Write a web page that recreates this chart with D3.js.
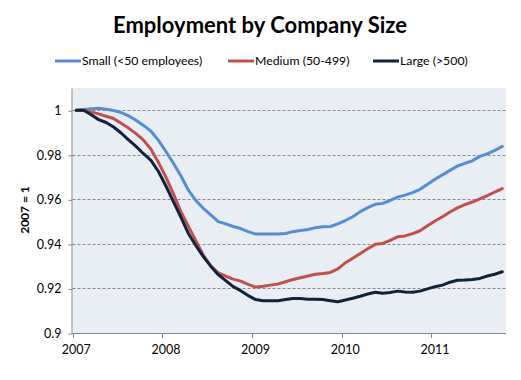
<!DOCTYPE html>
<html><head><meta charset="utf-8">
<script src="https://cdn.jsdelivr.net/npm/d3@7"></script>
<style>html,body{margin:0;padding:0;background:#fff;}svg{display:block;}</style>
</head><body>
<svg id="c" width="521" height="380"></svg>
<script>
const years = ["2007","2008","2009","2010","2011"];
const yTicks = [0.9, 0.92, 0.94, 0.96, 0.98, 1];
const seriesNames = ["Small (<50 employees)", "Medium (50-499)", "Large (>500)"];
const seriesColors = ["#558ED5", "#C0504D", "#11223C"];
const small = [1.000,1.0003,1.0007,1.0009,1.0005,0.9999,0.9990,0.9975,0.9955,0.9932,0.9906,0.9865,0.9815,0.9762,0.9706,0.9641,0.9595,0.9560,0.9530,0.9500,0.9490,0.9478,0.9469,0.9455,0.9444,0.9444,0.9444,0.9444,0.9447,0.9455,0.9460,0.9465,0.9473,0.9477,0.9478,0.9490,0.9505,0.9522,0.9545,0.9563,0.9578,0.9582,0.9595,0.9610,0.9619,0.9630,0.9645,0.9668,0.9690,0.9710,0.9730,0.9749,0.9762,0.9773,0.9793,0.9804,0.9820,0.9838];
const medium = [1.000,0.9999,0.9992,0.9984,0.9973,0.9963,0.9942,0.9920,0.9895,0.9866,0.9825,0.9766,0.9700,0.9625,0.9545,0.9480,0.9415,0.9350,0.9300,0.9270,0.9255,0.9242,0.9233,0.9218,0.9206,0.9210,0.9215,0.9220,0.9230,0.9240,0.9248,0.9256,0.9264,0.9267,0.9272,0.9288,0.9315,0.9336,0.9357,0.9378,0.9398,0.9402,0.9416,0.9432,0.9436,0.9446,0.9459,0.9481,0.9503,0.9522,0.9543,0.9562,0.9576,0.9588,0.9602,0.9617,0.9633,0.9648];
const large = [1.000,1.0000,0.9980,0.9958,0.9945,0.9925,0.9898,0.9867,0.9838,0.9805,0.9775,0.9725,0.9660,0.9590,0.9520,0.9447,0.9393,0.9343,0.9300,0.9262,0.9235,0.9208,0.9190,0.9168,0.9150,0.9145,0.9145,0.9145,0.9150,0.9155,0.9155,0.9152,0.9152,0.9150,0.9145,0.9140,0.9148,0.9156,0.9165,0.9175,0.9183,0.9178,0.9182,0.9188,0.9184,0.9183,0.9188,0.9198,0.9208,0.9215,0.9228,0.9237,0.9238,0.9240,0.9245,0.9256,0.9264,0.9275];

const allSeries = [small, medium, large];
const months = d3.range(small.length);
const svg = d3.select("#c");
const L = 72.5, R = 506, T = 88, B = 333;
const font = "Lato, 'Open Sans', sans-serif";

const x = d3.scaleBand().domain(months).range([L, R]).padding(0);
const y = d3.scaleLinear().domain([0.9, 1.01]).range([B, T]);

svg.append("rect").attr("x", L).attr("y", T).attr("width", R - L).attr("height", B - T).attr("fill", "#E9EDF4");

// gridlines
svg.append("g").selectAll("line").data(yTicks.filter(d => d > 0.9)).join("line")
  .attr("x1", L).attr("x2", R).attr("y1", d => Math.round(y(d)) + 0.5).attr("y2", d => Math.round(y(d)) + 0.5)
  .attr("stroke", "#8A8A8A").attr("stroke-width", 1).attr("stroke-dasharray", "3,2");

// y axis
const yAxis = d3.axisLeft(y).tickValues(yTicks).tickSize(4).tickPadding(7).tickFormat(d => d3.format("~g")(d));
const gy = svg.append("g").attr("transform", `translate(${L},0.5)`).call(yAxis);
gy.select(".domain").attr("stroke", "#868686").attr("d", `M-0.5,${T}V${B}`);
gy.selectAll(".tick line").attr("stroke", "#868686");
gy.selectAll("text").attr("font-family", font).attr("font-size", 12.5).attr("fill", "#000");

// x axis
const tickMonths = months.filter(m => m % 12 === 0);
const gx = svg.append("g");
gx.append("line").attr("x1", L).attr("x2", R).attr("y1", B + 0.5).attr("y2", B + 0.5).attr("stroke", "#868686");
gx.selectAll("line.t").data(tickMonths).join("line").attr("class", "t")
  .attr("x1", d => Math.round(x(d)) + 0.5).attr("x2", d => Math.round(x(d)) + 0.5)
  .attr("y1", B).attr("y2", B + 5).attr("stroke", "#868686");
gx.selectAll("text").data(tickMonths).join("text")
  .attr("x", d => x(d) + x.bandwidth() / 2).attr("y", 354)
  .attr("text-anchor", "middle").attr("font-family", font).attr("font-size", 12.5).attr("fill", "#000")
  .text((d, i) => years[i]);

// y title
svg.append("text").attr("transform", "translate(29,210) rotate(-90)").attr("text-anchor", "middle")
  .attr("font-family", font).attr("font-weight", "bold").attr("font-size", 12).text("2007 = 1");

// lines
const line = d3.line().x((d, i) => x(i) + x.bandwidth() / 2).y(d => y(d));
svg.append("g").selectAll("path").data(allSeries).join("path")
  .attr("d", d => line(d)).attr("fill", "none")
  .attr("stroke", (d, i) => seriesColors[i]).attr("stroke-width", 3)
  .attr("stroke-linejoin", "round").attr("stroke-linecap", "round");

// title
svg.append("text").attr("x", 260).attr("y", 33).attr("text-anchor", "middle")
  .attr("font-family", font).attr("font-weight", "bold").attr("font-size", 22).text("Employment by Company Size");

// legend
const legX = [55, 228, 373];
const lg = svg.append("g").selectAll("g").data(seriesNames).join("g")
  .attr("transform", (d, i) => `translate(${legX[i]},61)`);
lg.append("line").attr("x1", 0).attr("x2", 26).attr("y1", 0).attr("y2", 0)
  .attr("stroke", (d, i) => seriesColors[i]).attr("stroke-width", 3);
lg.append("text").attr("x", 27).attr("y", 4).attr("font-family", font).attr("font-size", 12.3).text(d => d);
</script>
</body></html>
